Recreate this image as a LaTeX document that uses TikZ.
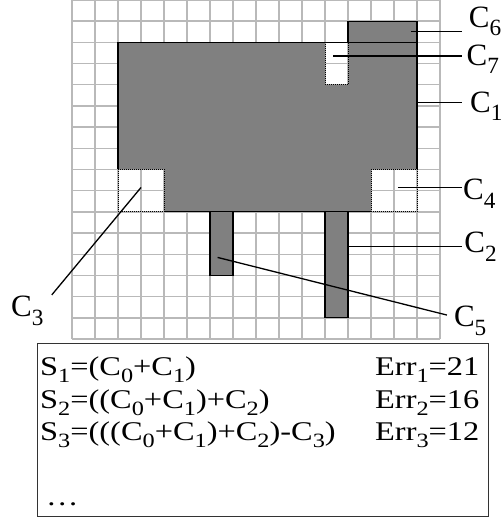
\documentclass[tikz,border=0pt]{standalone}
\usepackage{fontspec}
\setmainfont{Liberation Serif}
\newfontfamily\wideserif[FakeStretch=1.2]{Liberation Serif}

\newcommand{\lowidx}[1]{\raisebox{-0.27em}{\scalebox{0.75}{#1}}}

\tikzset{
	cell/.style={line width=1.4bp, gray!55},
	part/.style={fill=gray, draw=black, line width=1.2bp},
	hole/.style={draw=black, line width=0.8bp, dash pattern=on 1bp off 1bp},
	edge/.style={draw=black, line width=1.2bp},
	leader/.style={draw=black, line width=1.3bp},
	partname/.style={font=\fontsize{31bp}{31bp}\selectfont, inner sep=0pt, anchor=base west},
	stepbox/.style={draw=gray!40!black, line width=1.2bp, inner sep=0pt, anchor=north west},
}

\begin{document}
\begin{tikzpicture}[x=23bp, y=21.19bp]
	\useasboundingbox (-72bp,-180bp) rectangle (430bp,339bp);
	% raster
	\foreach \i in {0,...,16} {
		\draw[cell] (\i,0) -- (\i,16);
		\draw[cell] (0,\i) -- (16,\i);
	}
	% body C1 with the cut-outs C3, C4, C7
	\fill[gray, even odd rule] (2,6) rectangle (15,14)
		(2,6) rectangle (4,8) (13,6) rectangle (15,8) (11,12) rectangle (12,14);
	\draw[hole] (2,6) rectangle (4,8);
	\draw[hole] (13,6) rectangle (15,8);
	\draw[hole] (11,12) rectangle (12,14);
	\draw[edge] (2,8) -- (2,14) -- (15,14) -- (15,8) (4,6) -- (13,6);
	% added parts
	\draw[part] (12,14) rectangle (15,15);
	\draw[part] (11,1) rectangle (12,6);
	\draw[part] (6,3) rectangle (7,6);

	\coordinate (p6) at (14.75,14.5);
	\coordinate (p7) at (11.35,13.35);
	\coordinate (p1) at (15,11.15);
	\coordinate (p4) at (14.17,7.15);
	\coordinate (p2) at (12,4.35);
	\coordinate (p5) at (6.33,3.85);
	\coordinate (p3) at (3,7.15);
	\coordinate (tip) at (16.96,0);
	\coordinate (e5) at (16.3,1.13);
	\coordinate (e3) at (-0.88,2.08);

	\node[partname] (l6) at (17.25,14.72) {C\lowidx{6}};
	\node[partname] (l7) at (17.15,12.93) {C\lowidx{7}};
	\node[partname] (l1) at (17.3,10.71) {C\lowidx{1}};
	\node[partname] (l4) at (17.0,6.56) {C\lowidx{4}};
	\node[partname] (l2) at (17.05,4.06) {C\lowidx{2}};
	\node[partname] (l5) at (16.6,0.57) {C\lowidx{5}};
	\node[partname] (l3) at (-2.65,1.04) {C\lowidx{3}};

	\draw[leader] (p6) -- (p6 -| tip);
	\draw[leader] (p7) -- (p7 -| tip);
	\draw[leader] (p1) -- (p1 -| tip);
	\draw[leader] (p4) -- (p4 -| tip);
	\draw[leader] (p2) -- (p2 -| tip);
	\draw[leader] (p5) -- (e5);
	\draw[leader] (p3) -- (e3);

	% sequence of steps
	\node[stepbox, minimum width=451bp, minimum height=173bp] (box) at (-35bp,-3.7bp) {};
	\node[anchor=base west, inner sep=0pt, font=\wideserif\fontsize{27bp}{32.5bp}\selectfont] (steps) at (-32bp,-36.5bp) {%
		\begin{tabular}[t]{@{}p{335bp}@{}l@{}}
			S\lowidx{1}=(C\lowidx{0}+C\lowidx{1}) & Err\lowidx{1}=21\\
			S\lowidx{2}=((C\lowidx{0}+C\lowidx{1})+C\lowidx{2}) & Err\lowidx{2}=16\\
			S\lowidx{3}=(((C\lowidx{0}+C\lowidx{1})+C\lowidx{2})-C\lowidx{3}) & Err\lowidx{3}=12\\
			& \\
			\hspace{6bp}… & \\
		\end{tabular}};
\end{tikzpicture}
\end{document}
